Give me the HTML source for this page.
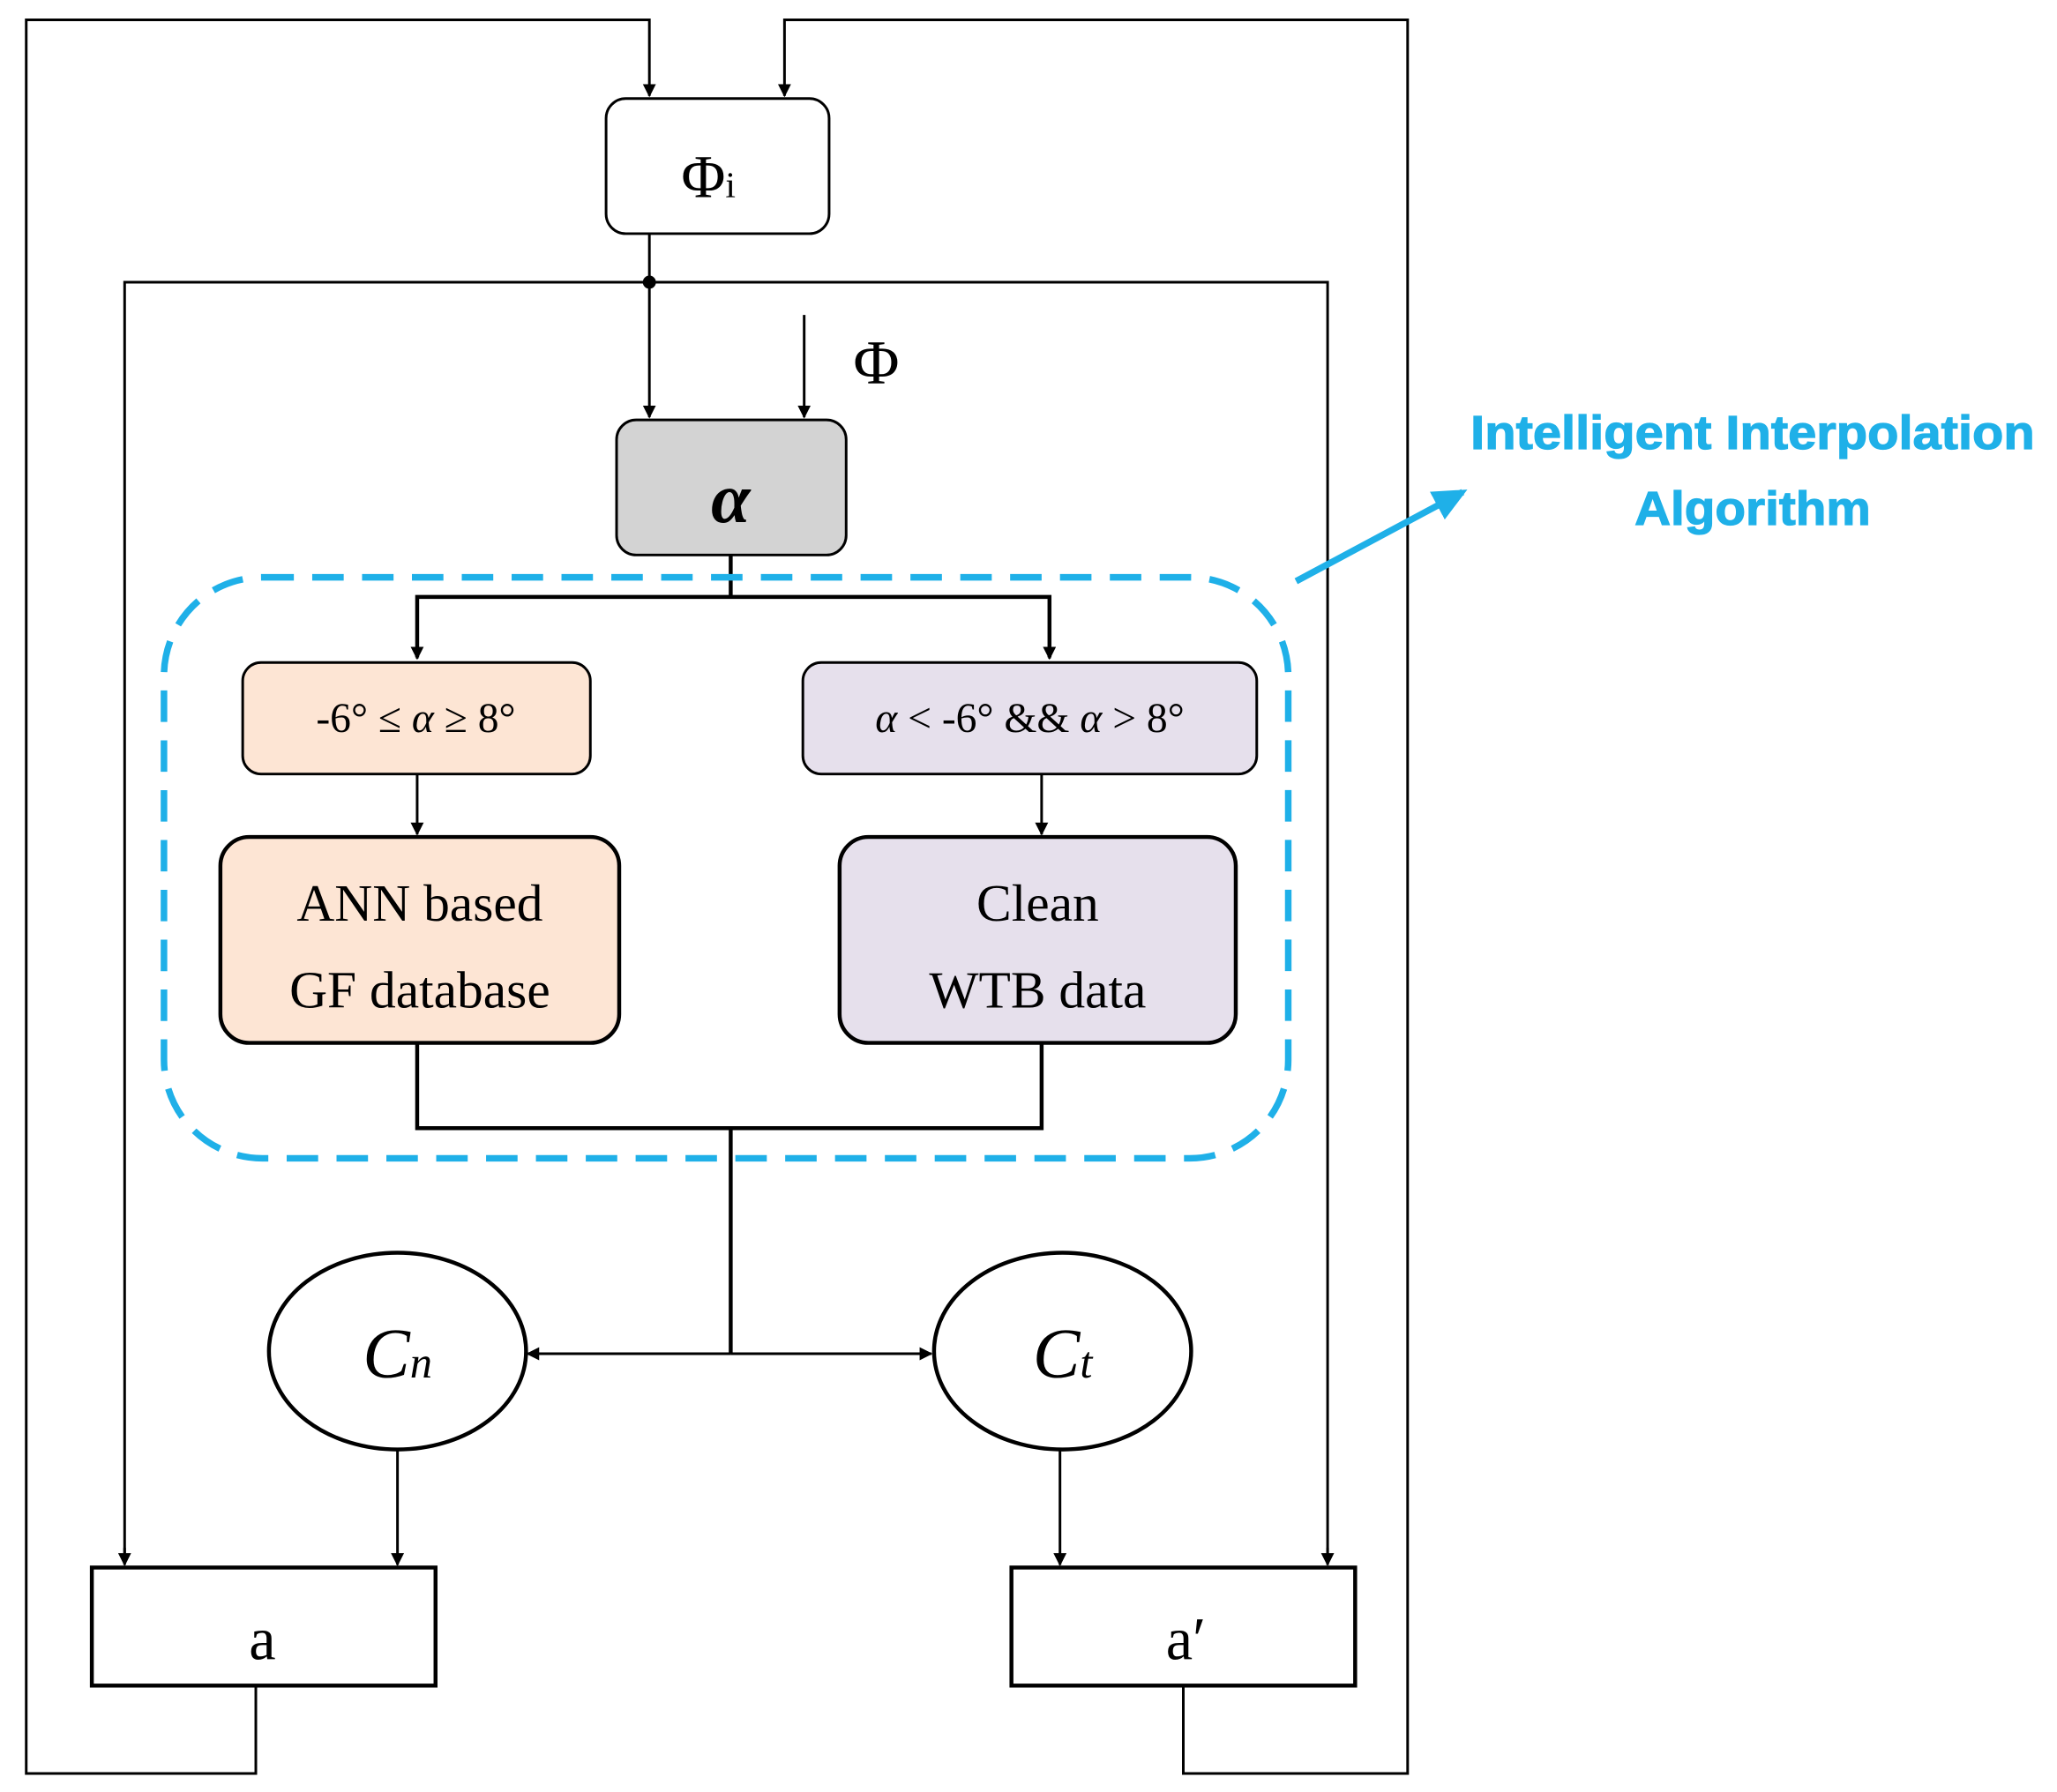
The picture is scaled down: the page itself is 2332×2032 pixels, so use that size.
<!DOCTYPE html>
<html><head><meta charset="utf-8"><style>html,body{margin:0;padding:0;background:#fff}svg{display:block}</style></head>
<body>
<svg width="2332" height="2032" viewBox="0 0 1568 1366" xmlns="http://www.w3.org/2000/svg" font-family="'Liberation Serif', serif">
<defs>
<marker id="ar" markerWidth="10" markerHeight="10" refX="9" refY="5" orient="auto" markerUnits="userSpaceOnUse" viewBox="0 0 10 10">
<path d="M0,0 L10,5 L0,10 z" fill="#000"/></marker>
<marker id="ab" markerWidth="26" markerHeight="24" refX="22" refY="12" orient="auto" markerUnits="userSpaceOnUse" viewBox="0 0 26 24">
<path d="M0,0 L26,12 L0,24 z" fill="#1fb0e8"/></marker>
</defs>
<g fill="none" stroke="#000" stroke-width="2">
<polyline points="195,1285 195,1352 20,1352 20,15 495,15 495,73" marker-end="url(#ar)"/>
<polyline points="902,1285 902,1352 1073,1352 1073,15 598,15 598,73" marker-end="url(#ar)"/>
<line x1="495" y1="178" x2="495" y2="318" marker-end="url(#ar)"/>
<polyline points="95,1192 95,215 1012,215 1012,1192" />
<line x1="95" y1="1180" x2="95" y2="1193" marker-end="url(#ar)"/>
<line x1="1012" y1="1180" x2="1012" y2="1193" marker-end="url(#ar)"/>
<line x1="613" y1="240" x2="613" y2="318" marker-end="url(#ar)"/>
</g>
<circle cx="495" cy="215" r="5" fill="#000"/>
<g fill="none" stroke="#000" stroke-width="3">
<line x1="557" y1="423" x2="557" y2="455"/>
<polyline points="318,501 318,455 800,455 800,501"/>
</g>
<g stroke="#000" stroke-width="2" fill="none">
<line x1="318" y1="480" x2="318" y2="502" marker-end="url(#ar)"/>
<line x1="800" y1="480" x2="800" y2="502" marker-end="url(#ar)"/>
<line x1="318" y1="590" x2="318" y2="636" marker-end="url(#ar)"/>
<line x1="794" y1="590" x2="794" y2="636" marker-end="url(#ar)"/>
<line x1="303" y1="1105" x2="303" y2="1193" marker-end="url(#ar)"/>
<line x1="808" y1="1105" x2="808" y2="1193" marker-end="url(#ar)"/>
<line x1="557" y1="1032" x2="402" y2="1032" marker-end="url(#ar)"/>
<line x1="557" y1="1032" x2="710" y2="1032" marker-end="url(#ar)"/>
</g>
<g stroke="#000" stroke-width="3" fill="none">
<polyline points="318,795 318,860 794,860 794,795"/>
<line x1="557" y1="860" x2="557" y2="1032"/>
</g>
<rect x="125" y="440" width="857" height="443" rx="75" fill="none" stroke="#1fb0e8" stroke-width="5" stroke-dasharray="24 14"/>
<line x1="988" y1="443" x2="1115" y2="375" stroke="#1fb0e8" stroke-width="5" marker-end="url(#ab)"/>
<rect x="462" y="75" width="170" height="103" rx="15" fill="#fff" stroke="#000" stroke-width="2"/>
<text x="540" y="150" font-size="46" text-anchor="middle">Φ<tspan font-size="28">i</tspan></text>
<text x="668" y="292" font-size="48" text-anchor="middle">Φ</text>
<rect x="470" y="320" width="175" height="103" rx="15" fill="#d3d3d3" stroke="#000" stroke-width="2"/>
<text x="557" y="398" font-size="54" font-weight="bold" font-style="italic" text-anchor="middle">α</text>
<rect x="185" y="505" width="265" height="85" rx="14" fill="#fde5d4" stroke="#000" stroke-width="2"/>
<text x="317" y="558" font-size="32" text-anchor="middle">-6° ≤ <tspan font-style="italic">α</tspan> ≥ 8°</text>
<rect x="612" y="505" width="346" height="85" rx="14" fill="#e6e0ec" stroke="#000" stroke-width="2"/>
<text x="785" y="558" font-size="32" text-anchor="middle"><tspan font-style="italic">α</tspan> &lt; -6° &amp;&amp; <tspan font-style="italic">α</tspan> &gt; 8°</text>
<rect x="168" y="638" width="304" height="157" rx="22" fill="#fde5d4" stroke="#000" stroke-width="3"/>
<text x="320" y="702" font-size="40" text-anchor="middle">ANN based</text>
<text x="320" y="768" font-size="40" text-anchor="middle">GF database</text>
<rect x="640" y="638" width="302" height="157" rx="22" fill="#e6e0ec" stroke="#000" stroke-width="3"/>
<text x="791" y="702" font-size="40" text-anchor="middle">Clean</text>
<text x="791" y="768" font-size="40" text-anchor="middle">WTB data</text>
<ellipse cx="303" cy="1030" rx="98" ry="75" fill="#fff" stroke="#000" stroke-width="3"/>
<text x="303" y="1050" font-size="54" font-style="italic" text-anchor="middle">C<tspan font-size="34">n</tspan></text>
<ellipse cx="810" cy="1030" rx="98" ry="75" fill="#fff" stroke="#000" stroke-width="3"/>
<text x="810" y="1050" font-size="54" font-style="italic" text-anchor="middle">C<tspan font-size="34">t</tspan></text>
<rect x="70" y="1195" width="262" height="90" fill="#fff" stroke="#000" stroke-width="3"/>
<text x="200" y="1265" font-size="46" text-anchor="middle">a</text>
<rect x="771" y="1195" width="262" height="90" fill="#fff" stroke="#000" stroke-width="3"/>
<text x="904" y="1265" font-size="46" text-anchor="middle">a′</text>
<text x="1336" y="342" font-size="36" font-weight="bold" fill="#1fb0e8" stroke="#1fb0e8" stroke-width="0.8" text-anchor="middle" textLength="430" lengthAdjust="spacingAndGlyphs" font-family="'Liberation Sans', sans-serif">Intelligent Interpolation</text>
<text x="1336" y="400" font-size="36" font-weight="bold" fill="#1fb0e8" stroke="#1fb0e8" stroke-width="0.8" text-anchor="middle" textLength="180" lengthAdjust="spacingAndGlyphs" font-family="'Liberation Sans', sans-serif">Algorithm</text>
</svg>
</body></html>
